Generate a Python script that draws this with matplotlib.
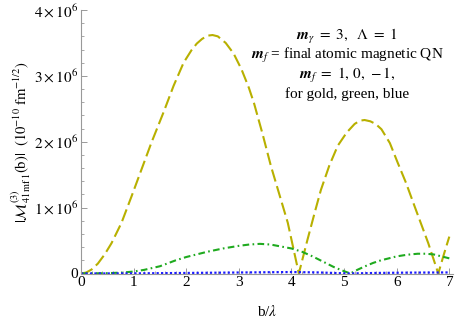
import numpy as np
import matplotlib
matplotlib.use("Agg")
import matplotlib.pyplot as plt
from matplotlib.ticker import MultipleLocator

plt.rcParams['font.family'] = ['Liberation Serif', 'DejaVu Serif']
plt.rcParams['mathtext.fontset'] = 'stix'

# values, amplitude in units of 1e6
x_gold = [0, 0.1, 0.2, 0.32, 0.45, 0.58, 0.77, 0.96, 1.15, 1.34, 1.57, 1.76, 1.95, 2.1, 2.2,
          2.3, 2.4, 2.5, 2.6, 2.75, 2.9, 3.05, 3.19, 3.29, 3.45, 3.61, 3.77, 3.93, 4.14,
          4.3, 4.45, 4.56, 4.72, 4.88, 5.05, 5.2, 5.3, 5.39, 5.5, 5.6, 5.71, 5.87, 6.02,
          6.18, 6.34, 6.47, 6.6, 6.79, 6.9, 7.0]
y_gold = [0, 0.015, 0.06, 0.15, 0.29, 0.46, 0.77, 1.17, 1.58, 1.99, 2.45, 2.85, 3.2, 3.39, 3.49,
          3.56, 3.61, 3.62, 3.6, 3.5, 3.34, 3.1, 2.82, 2.58, 2.12, 1.63, 1.2, 0.77, 0,
          0.5, 0.95, 1.27, 1.64, 1.94, 2.14, 2.27, 2.32, 2.33, 2.31, 2.27, 2.19, 1.98, 1.68,
          1.37, 1.02, 0.74, 0.46, 0, 0.3, 0.56]

x_green = [0, 0.5, 0.8, 1.0, 1.2, 1.5, 1.8, 2.0, 2.2, 2.4, 2.7, 3.0, 3.2, 3.4, 3.6, 3.8, 4.0,
           4.2, 4.4, 4.6, 4.8, 4.95, 5.12, 5.25, 5.4, 5.55, 5.7, 5.85, 6.0, 6.2, 6.4, 6.55,
           6.7, 6.85, 7.0]
y_green = [0, 0.005, 0.015, 0.03, 0.055, 0.11, 0.2, 0.25, 0.29, 0.33, 0.38, 0.42, 0.44, 0.45,
           0.44, 0.41, 0.38, 0.33, 0.26, 0.18, 0.1, 0.05, 0, 0.055, 0.11, 0.16, 0.2, 0.23,
           0.26, 0.285, 0.30, 0.30, 0.29, 0.26, 0.23]

x_blue = [0, 1, 2, 3, 4, 4.5, 5.1, 5.6, 6.2, 7.0]
y_blue = [0, 0.002, 0.008, 0.015, 0.022, 0.016, 0, 0.008, 0.013, 0.016]

ytick_vals = [0, 1, 2, 3, 4]
ytick_labels = ['0', r'$1\times10^{6}$', r'$2\times10^{6}$', r'$3\times10^{6}$', r'$4\times10^{6}$']

fig = plt.figure(figsize=(4.58, 3.18), dpi=100)
ax = fig.add_axes([81/458, 1 - 273.5/318, (453 - 81)/458, (273.5 - 10)/318])

ax.plot(x_gold, y_gold, color='#b8b000', lw=1.5, dashes=(6.0, 2.3), clip_on=False)
ax.plot(x_green, y_green, color='#1faa1f', lw=1.5, dashes=(3.2, 1.6, 0.8, 1.6), clip_on=False)
ax.plot(x_blue, y_blue, color='#1a1aff', lw=1.6, dashes=(1.0, 1.0), clip_on=False)

ax.set_xlim(0, 7.07)
ax.set_ylim(0, 4.0)
for s in ['top', 'right']:
    ax.spines[s].set_visible(False)
for s in ['left', 'bottom']:
    ax.spines[s].set_color('#999999')
    ax.spines[s].set_linewidth(0.8)

ax.xaxis.set_major_locator(MultipleLocator(1))
ax.xaxis.set_minor_locator(MultipleLocator(0.2))
ax.set_yticks(ytick_vals)
ax.set_yticklabels(ytick_labels)
ax.yaxis.set_minor_locator(MultipleLocator(0.2))
ax.tick_params(which='both', direction='in', color='#999999', labelsize=11, pad=2)
ax.tick_params(which='major', length=4, width=0.7)
ax.tick_params(which='minor', length=2, width=0.6)

ax.set_xlabel(r'b/$\lambda$', fontsize=11)
ax.xaxis.set_label_coords(0.5, -0.115)
ax.set_ylabel(r'$|\mathcal{M}^{(3)}_{41\,\mathrm{mf}\,1}(\mathrm{b})|\ \ (10^{-10}\ \mathrm{fm}^{-1/2})$',
              fontsize=10.5)
ax.yaxis.set_label_coords(-0.13, 0.5)

lines = [r'$\mathbfit{m}_\gamma\ =\ 3,\ \ \Lambda\ =\ 1$',
         r'$\mathbfit{m}_f$ = final atomic magnetic QN',
         r'$\mathbfit{m}_f\ =\ 1,\,0,\,-1,$',
         'for gold, green, blue']
for i, t in enumerate(lines):
    fig.text(347/458, 1 - (37 + 19*i)/318, t, ha='center', va='center', fontsize=11)

fig.savefig('out.png', dpi=100)
